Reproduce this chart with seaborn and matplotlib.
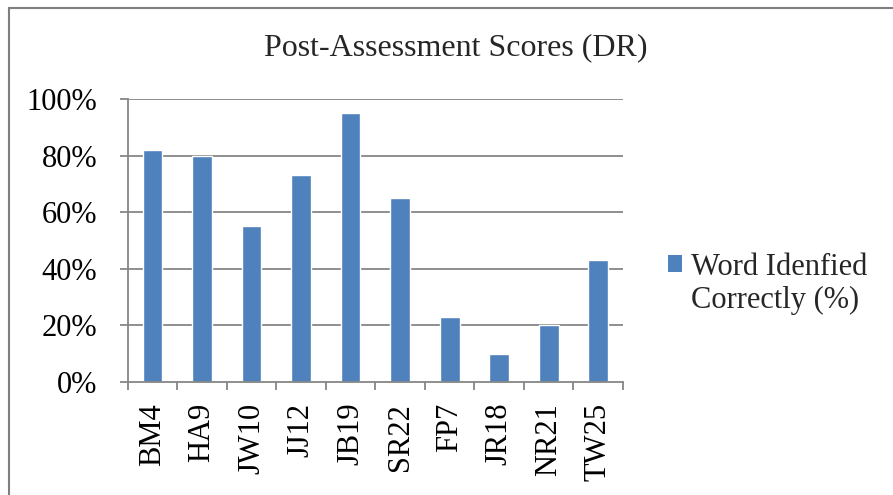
import matplotlib
matplotlib.use("Agg")
import matplotlib.pyplot as plt
import seaborn as sns
import pandas as pd
from matplotlib.ticker import PercentFormatter, FixedLocator
from matplotlib.lines import Line2D
from matplotlib.patches import Patch

students = ["BM4", "HA9", "JW10", "JJ12", "JB19", "SR22", "FP7", "JR18", "NR21", "TW25"]
scores = [0.82, 0.80, 0.55, 0.73, 0.95, 0.65, 0.23, 0.10, 0.20, 0.43]
legend_lines = ["Word Idenfied", "Correctly (%)"]
title = "Post-Assessment Scores (DR)"
yticks = [0, 0.2, 0.4, 0.6, 0.8, 1.0]

bar_color = "#4F81BD"

sns.set_theme(style="white")
plt.rcParams["font.family"] = ["Liberation Serif", "DejaVu Serif"]

df = pd.DataFrame({"student": students, "score": scores})

fig = plt.figure(figsize=(8.93, 4.95), dpi=100)
ax = fig.add_axes([127.7 / 893, 1 - 382 / 495, (623 - 127.7) / 893, (382 - 99) / 495])

sns.barplot(data=df, x="student", y="score", color=bar_color, width=0.4,
            saturation=1, ax=ax)

ax.set_ylim(0, 1.0)
ax.set_xlim(-0.5, len(students) - 0.5)
ax.yaxis.set_major_locator(FixedLocator(yticks))
ax.yaxis.set_major_formatter(PercentFormatter(1.0, decimals=0))
ax.set_xlabel("")
ax.set_ylabel("")

grid_color = "#868686"
for y in yticks[1:]:
    ax.axhline(y, color=grid_color, lw=1.3, zorder=0)
ax.set_axisbelow(True)

for s in ["top", "right"]:
    ax.spines[s].set_visible(False)
for s in ["left", "bottom"]:
    ax.spines[s].set_color(grid_color)
    ax.spines[s].set_linewidth(1.3)

ax.tick_params(axis="y", which="major", left=True, length=6, width=1.3,
               color=grid_color, pad=16, labelsize=22, labelcolor="black")
ax.set_xticks(range(len(students)))
ax.set_xticklabels(students, rotation=90, fontsize=22)
ax.tick_params(axis="x", which="major", bottom=False, pad=9, labelcolor="black")
# boundary tick marks between categories
ax.set_xticks([i - 0.5 for i in range(len(students) + 1)], minor=True)
ax.tick_params(axis="x", which="minor", bottom=True, length=6, width=1.3, color=grid_color)

fig.text(456 / 893, 1 - 48 / 495, title, ha="center", va="center", fontsize=23)

handles = [Patch(facecolor=bar_color, edgecolor="none"),
           Patch(facecolor="none", edgecolor="none")]
leg = fig.legend(handles, legend_lines, loc="center left",
                 bbox_to_anchor=(668 / 893, 1 - 284 / 495),
                 frameon=False, fontsize=22, handlelength=0.46, handleheight=0.46,
                 handletextpad=0.28, borderaxespad=0, borderpad=0, labelspacing=0.15)

# outer chart border
fig.add_artist(Line2D([9 / 893, 9 / 893], [0, 1 - 8 / 495], transform=fig.transFigure,
                      color="#7f7f7f", lw=1.5))
fig.add_artist(Line2D([9 / 893, 1], [1 - 8 / 495, 1 - 8 / 495], transform=fig.transFigure,
                      color="#7f7f7f", lw=1.5))

fig.savefig("out.png", dpi=100)
